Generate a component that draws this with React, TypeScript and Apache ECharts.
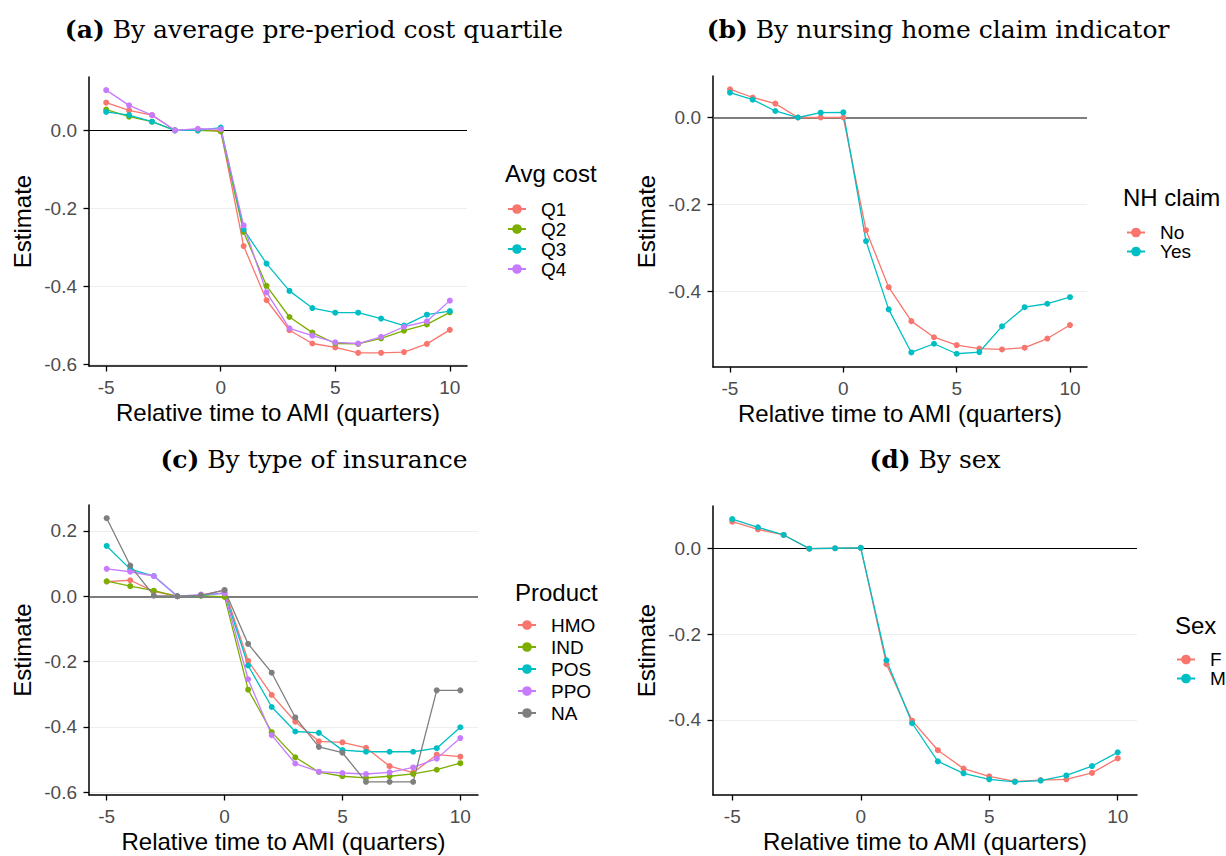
import React, { useEffect, useRef } from "react";
import * as echarts from "echarts";

// Relative time to AMI (quarters)
const times = [-5, -4, -3, -2, -1, 0, 1, 2, 3, 4, 5, 6, 7, 8, 9, 10];

// (a) By average pre-period cost quartile
const costNames = ["Q1", "Q2", "Q3", "Q4"];
const costQ1 = [0.071, 0.051, 0.039, 0, 0, 0, -0.297, -0.436, -0.513, -0.547, -0.557, -0.571, -0.571, -0.569, -0.548, -0.512];
const costQ2 = [0.053, 0.035, 0.022, 0, 0, -0.003, -0.261, -0.399, -0.479, -0.519, -0.547, -0.548, -0.534, -0.514, -0.498, -0.467];
const costQ3 = [0.047, 0.039, 0.022, 0, 0, 0.007, -0.254, -0.342, -0.412, -0.456, -0.468, -0.468, -0.483, -0.501, -0.473, -0.464];
const costQ4 = [0.103, 0.064, 0.039, 0, 0.004, 0.003, -0.244, -0.416, -0.508, -0.527, -0.544, -0.547, -0.53, -0.504, -0.49, -0.437];

// (b) By nursing home claim indicator
const nhNames = ["No", "Yes"];
const nhNo = [0.065, 0.046, 0.032, 0, 0, 0, -0.259, -0.39, -0.468, -0.505, -0.523, -0.531, -0.533, -0.529, -0.508, -0.477];
const nhYes = [0.057, 0.041, 0.015, 0, 0.011, 0.012, -0.284, -0.441, -0.54, -0.52, -0.543, -0.539, -0.48, -0.436, -0.428, -0.413];

// (c) By type of insurance
const productNames = ["HMO", "IND", "POS", "PPO", "NA"];
const prodHMO = [0.045, 0.049, 0.015, 0, 0.003, 0.019, -0.198, -0.302, -0.384, -0.444, -0.447, -0.464, -0.52, -0.54, -0.485, -0.491];
const prodIND = [0.046, 0.031, 0.017, 0, 0.002, -0.002, -0.286, -0.416, -0.493, -0.538, -0.551, -0.556, -0.551, -0.544, -0.531, -0.511];
const prodPOS = [0.154, 0.083, 0.062, 0, 0.003, 0.01, -0.212, -0.339, -0.414, -0.418, -0.471, -0.476, -0.476, -0.476, -0.465, -0.401];
const prodPPO = [0.084, 0.075, 0.062, 0, 0.005, 0.009, -0.254, -0.425, -0.512, -0.537, -0.541, -0.544, -0.539, -0.524, -0.497, -0.434];
const prodNA = [0.239, 0.094, 0.002, 0, 0.003, 0.019, -0.146, -0.234, -0.371, -0.461, -0.479, -0.568, -0.568, -0.568, -0.288, -0.288];

// (d) By sex
const sexNames = ["F", "M"];
const sexF = [0.063, 0.045, 0.032, 0, 0.001, 0.002, -0.27, -0.402, -0.471, -0.514, -0.532, -0.544, -0.541, -0.539, -0.524, -0.49];
const sexM = [0.069, 0.05, 0.032, 0, 0.001, 0.002, -0.261, -0.408, -0.497, -0.525, -0.539, -0.545, -0.542, -0.53, -0.508, -0.476];

// tick labels
const xTicks = [-5, 0, 5, 10];
const yTicksA = [-0.6, -0.4, -0.2, 0];
const yTicksB = [-0.4, -0.2, 0];
const yTicksC = [-0.6, -0.4, -0.2, 0, 0.2];
const yTicksD = [-0.4, -0.2, 0];

const titles = [
  ["(a)", "By average pre-period cost quartile"],
  ["(b)", "By nursing home claim indicator"],
  ["(c)", "By type of insurance"],
  ["(d)", "By sex"],
];
const legendTitles = ["Avg cost", "NH claim", "Product", "Sex"];
const xTitle = "Relative time to AMI (quarters)";
const yTitle = "Estimate";

const C_RED = "#F8766D";
const C_GREEN = "#7CAE00";
const C_TEAL = "#00BFC4";
const C_PURPLE = "#C77CFF";
const C_GREY = "#7F7F7F";

const SANS = "Liberation Sans, Arial, Helvetica, sans-serif";
const SERIF = "DejaVu Serif, Liberation Serif, serif";

const panels = [
  {
    names: costNames,
    values: [costQ1, costQ2, costQ3, costQ4],
    colors: [C_RED, C_GREEN, C_TEAL, C_PURPLE],
    yTicks: yTicksA,
    grid: { left: 89, top: 77, width: 378, height: 289 },
    zero: { color: "#000", width: 1.2 },
    legend: { left: 507, top: 199, lh: 20 },
    legendTitle: { x: 505, y: 173 },
    title: { x: 314, y: 29 },
  },
  {
    names: nhNames,
    values: [nhNo, nhYes],
    colors: [C_RED, C_TEAL],
    yTicks: yTicksB,
    grid: { left: 713, top: 76, width: 374, height: 291 },
    zero: { color: "#555", width: 1.6 },
    legend: { left: 1126, top: 223, lh: 18.5 },
    legendTitle: { x: 1123, y: 197 },
    title: { x: 938, y: 29 },
  },
  {
    names: productNames,
    values: [prodHMO, prodIND, prodPOS, prodPPO, prodNA],
    colors: [C_RED, C_GREEN, C_TEAL, C_PURPLE, C_GREY],
    yTicks: yTicksC,
    grid: { left: 89, top: 505, width: 389, height: 290 },
    zero: { color: "#555", width: 1.6 },
    legend: { left: 517, top: 614, lh: 22 },
    legendTitle: { x: 515, y: 592 },
    title: { x: 314, y: 459 },
  },
  {
    names: sexNames,
    values: [sexF, sexM],
    colors: [C_RED, C_TEAL],
    yTicks: yTicksD,
    grid: { left: 713, top: 506, width: 424, height: 289 },
    zero: { color: "#000", width: 1.2 },
    legend: { left: 1176, top: 650, lh: 19 },
    legendTitle: { x: 1175, y: 625 },
    title: { x: 935, y: 459 },
  },
];

function buildOption() {
  const grids: any[] = [];
  const xAxes: any[] = [];
  const yAxes: any[] = [];
  const series: any[] = [];
  const legends: any[] = [];
  const graphics: any[] = [];

  panels.forEach((p, i) => {
    grids.push({ ...p.grid, containLabel: false });
    const all = p.values.flat();
    const lo = Math.min(...all);
    const hi = Math.max(...all);
    const ex = (hi - lo) * 0.05;
    const xr = times[times.length - 1] - times[0];

    xAxes.push({
      type: "value",
      gridIndex: i,
      min: times[0] - xr * 0.05,
      max: times[times.length - 1] + xr * 0.05,
      name: xTitle,
      nameLocation: "middle",
      nameGap: 34,
      nameTextStyle: { fontSize: 24, color: "#000", fontFamily: SANS },
      axisLine: { show: true, onZero: false, lineStyle: { color: "#000", width: 1.5 } },
      axisTick: { show: true, length: 5.5, customValues: xTicks, lineStyle: { color: "#000", width: 1.3 } },
      axisLabel: {
        customValues: xTicks,
        fontSize: 19,
        color: "#4D4D4D",
        fontFamily: SANS,
        margin: 12,
        formatter: (v: number) => String(v),
      },
      splitLine: { show: false },
    });

    yAxes.push({
      type: "value",
      gridIndex: i,
      min: lo - ex,
      max: hi + ex,
      name: yTitle,
      nameLocation: "middle",
      nameGap: 55,
      nameTextStyle: { fontSize: 24, color: "#000", fontFamily: SANS },
      axisLine: { show: true, onZero: false, lineStyle: { color: "#000", width: 1.5 } },
      axisTick: { show: true, length: 5.5, customValues: p.yTicks, lineStyle: { color: "#000", width: 1.3 } },
      axisLabel: {
        customValues: p.yTicks,
        fontSize: 19,
        color: "#4D4D4D",
        fontFamily: SANS,
        margin: 12,
        formatter: (v: number) => (Math.abs(v) < 1e-9 ? 0 : v).toFixed(1),
      },
      splitLine: { show: true, lineStyle: { color: "#EEEEEE", width: 1 } },
    });

    p.names.forEach((name, k) => {
      const s: any = {
        type: "line",
        name,
        xAxisIndex: i,
        yAxisIndex: i,
        data: times.map((t, j) => [t, p.values[k][j]]),
        symbol: "circle",
        symbolSize: 6,
        showSymbol: true,
        lineStyle: { color: p.colors[k], width: 1.3 },
        itemStyle: { color: p.colors[k] },
        emphasis: { disabled: true },
        z: 3,
      };
      if (k === 0) {
        s.markLine = {
          silent: true,
          symbol: "none",
          z: 2,
          label: { show: false },
          lineStyle: { color: p.zero.color, width: p.zero.width, type: "solid" },
          data: [{ yAxis: 0 }],
        };
      }
      series.push(s);
    });

    legends.push({
      data: p.names,
      orient: "vertical",
      left: p.legend.left,
      top: p.legend.top,
      itemWidth: 18,
      itemHeight: 12,
      itemGap: 0,
      selectedMode: false,
      padding: 0,
      textStyle: {
        fontSize: 19,
        lineHeight: p.legend.lh,
        color: "#000",
        fontFamily: SANS,
        padding: [0, 0, 0, 10],
      },
    });

    graphics.push({
      type: "text",
      left: p.legendTitle.x,
      top: p.legendTitle.y - 12,
      style: { text: legendTitles[i], fontSize: 24, fontFamily: SANS, fill: "#000" },
    });

    graphics.push({
      type: "text",
      x: p.title.x,
      y: p.title.y,
      style: {
        text: `{b|${titles[i][0]}} ${titles[i][1]}`,
        fontSize: 25,
        fontFamily: SERIF,
        fill: "#000",
        align: "center",
        verticalAlign: "middle",
        rich: {
          b: { fontSize: 25, fontFamily: SERIF, fontWeight: "bold", fill: "#000" },
        },
      },
    });
  });

  return {
    animation: false,
    backgroundColor: "#fff",
    grid: grids,
    xAxis: xAxes,
    yAxis: yAxes,
    series,
    legend: legends,
    graphic: graphics,
  };
}

export default function App() {
  const ref = useRef<HTMLDivElement>(null);
  useEffect(() => {
    if (!ref.current) return;
    const chart = echarts.init(ref.current, null, { renderer: "svg" });
    chart.setOption(buildOption() as any);
    return () => chart.dispose();
  }, []);
  return (
    <div
      ref={ref}
      style={{ position: "fixed", left: 0, top: 0, width: 1226, height: 856, background: "#fff" }}
    />
  );
}
